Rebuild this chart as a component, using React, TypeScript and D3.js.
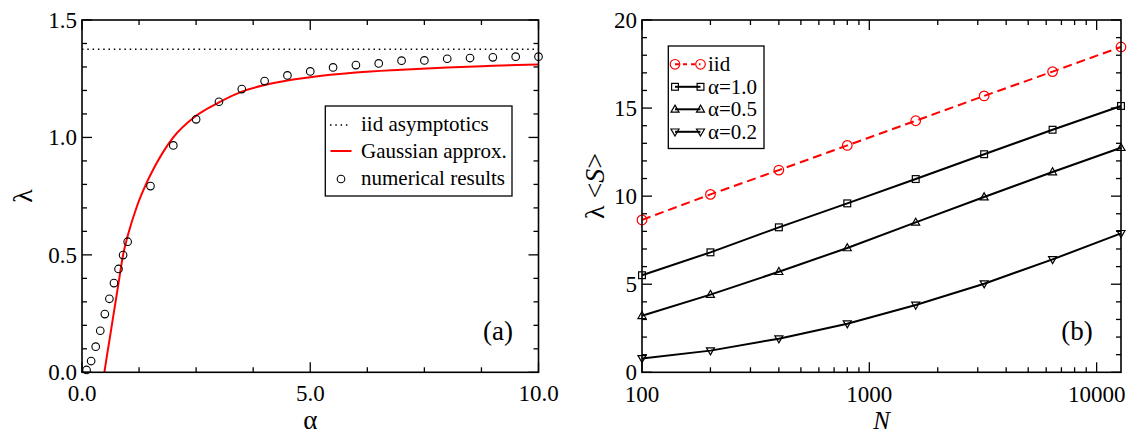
import React from 'react';
import * as d3 from 'd3';

// ---------- Panel (a) data ----------
const alphaNum = [0.1, 0.2, 0.3, 0.4, 0.5, 0.6, 0.7, 0.8, 0.9, 1.0, 1.5, 2.0, 2.5, 3.0, 3.5, 4.0, 4.5, 5.0, 5.5, 6.0, 6.5, 7.0, 7.5, 8.0, 8.5, 9.0, 9.5, 10.0];
const lambdaNum = [0.01, 0.048, 0.109, 0.177, 0.248, 0.313, 0.38, 0.44, 0.499, 0.556, 0.793, 0.966, 1.077, 1.152, 1.206, 1.24, 1.264, 1.281, 1.298, 1.308, 1.315, 1.327, 1.328, 1.335, 1.338, 1.341, 1.344, 1.344];
const alphaGauss = [0.49, 0.55, 0.6, 0.7, 0.8, 0.9, 1.0, 1.2, 1.4, 1.6, 1.8, 2.0, 2.5, 3.0, 3.5, 4.0, 5.0, 6.0, 7.0, 8.0, 9.0, 10.0];
const lambdaGauss = [0.0, 0.075, 0.135, 0.257, 0.379, 0.5, 0.58, 0.705, 0.8, 0.878, 0.945, 1.0, 1.092, 1.149, 1.195, 1.223, 1.256, 1.276, 1.288, 1.298, 1.305, 1.311];
const iidAsymptote = 1.375;
const leftXTicks = [0, 5, 10];
const leftXTickLabels = ['0.0', '5.0', '10.0'];
const leftYTicks = [0, 0.5, 1.0, 1.5];
const leftYTickLabels = ['0.0', '0.5', '1.0', '1.5'];
const leftXMinor = [1.25, 2.5, 3.75, 6.25, 7.5, 8.75];
const leftYMinor = [0.1, 0.2, 0.3, 0.4, 0.6, 0.7, 0.8, 0.9, 1.1, 1.2, 1.3, 1.4];
const leftLegend = ['iid asymptotics', 'Gaussian approx.', 'numerical results'];

// ---------- Panel (b) data ----------
const Nvals = [100, 200, 400, 800, 1600, 3200, 6400, 12800];
const iidVals = [8.65, 10.1, 11.48, 12.88, 14.28, 15.69, 17.07, 18.47];
const alpha10Vals = [5.51, 6.81, 8.23, 9.59, 10.97, 12.38, 13.77, 15.12];
const alpha05Vals = [3.21, 4.41, 5.71, 7.06, 8.51, 9.95, 11.37, 12.75];
const alpha02Vals = [0.79, 1.23, 1.91, 2.76, 3.82, 5.03, 6.41, 7.89];
const rightXTicks = [100, 1000, 10000];
const rightXTickLabels = ['100', '1000', '10000'];
const rightXMinor = [200, 300, 400, 500, 600, 700, 800, 900, 2000, 3000, 4000, 5000, 6000, 7000, 8000, 9000];
const rightYTicks = [0, 5, 10, 15, 20];
const rightYTickLabels = ['0', '5', '10', '15', '20'];
const rightYMinor = [1, 2, 3, 4, 6, 7, 8, 9, 11, 12, 13, 14, 16, 17, 18, 19];
const rightLegend = ['iid', 'α=1.0', 'α=0.5', 'α=0.2'];

const FONT = "'Liberation Serif', 'Times New Roman', Times, serif";
const RED = '#ff0000';
const TS = { fontFamily: FONT };

type Box = { x0: number; x1: number; y0: number; y1: number };

function Frame({ box, xs, ys, xMaj, xMin, yMaj, yMin }: any) {
  const MAJ = 10, MIN = 5;
  const els: any[] = [];
  const addX = (v: number, len: number, k: string) => {
    const x = xs(v);
    els.push(<line key={'b' + k} x1={x} x2={x} y1={box.y1} y2={box.y1 - len} />);
    els.push(<line key={'t' + k} x1={x} x2={x} y1={box.y0} y2={box.y0 + len} />);
  };
  const addY = (v: number, len: number, k: string) => {
    const y = ys(v);
    els.push(<line key={'l' + k} x1={box.x0} x2={box.x0 + len} y1={y} y2={y} />);
    els.push(<line key={'r' + k} x1={box.x1} x2={box.x1 - len} y1={y} y2={y} />);
  };
  xMaj.forEach((v: number, i: number) => addX(v, MAJ, 'xM' + i));
  xMin.forEach((v: number, i: number) => addX(v, MIN, 'xm' + i));
  yMaj.forEach((v: number, i: number) => addY(v, MAJ, 'yM' + i));
  yMin.forEach((v: number, i: number) => addY(v, MIN, 'ym' + i));
  return (
    <g stroke="#000" strokeWidth={1.3} fill="none">
      {els}
      <rect x={box.x0} y={box.y0} width={box.x1 - box.x0} height={box.y1 - box.y0} strokeWidth={1.6} />
    </g>
  );
}

function marker(kind: string, x: number, y: number, color: string, key: string) {
  const s = 3.4;
  if (kind === 'circle') return <circle key={key} cx={x} cy={y} r={4.8} fill="none" stroke={color} strokeWidth={1.2} />;
  if (kind === 'square') return <rect key={key} x={x - s} y={y - s} width={2 * s} height={2 * s} fill="none" stroke={color} strokeWidth={1.2} />;
  if (kind === 'up') return <path key={key} d={`M${x},${y - 4.2}L${x + 4},${y + 2.8}L${x - 4},${y + 2.8}Z`} fill="none" stroke={color} strokeWidth={1.2} />;
  return <path key={key} d={`M${x},${y + 4.2}L${x + 4},${y - 2.8}L${x - 4},${y - 2.8}Z`} fill="none" stroke={color} strokeWidth={1.2} />;
}

export default function App() {
  // Panel (a)
  const boxA: Box = { x0: 82, x1: 538.5, y0: 20, y1: 372.3 };
  const xA = d3.scaleLinear().domain([0, 10]).range([boxA.x0, boxA.x1]);
  const yA = d3.scaleLinear().domain([0, 1.5]).range([boxA.y1, boxA.y0]);
  const gaussLine = d3.line<number>()
    .x((d, i) => xA(alphaGauss[i]))
    .y((d) => yA(d))
    .curve(d3.curveMonotoneX)(lambdaGauss) as string;

  // Panel (b)
  const boxB: Box = { x0: 642, x1: 1121, y0: 20, y1: 372.3 };
  const xB = d3.scaleLog().domain([100, 12800]).range([boxB.x0, boxB.x1]);
  const yB = d3.scaleLinear().domain([0, 20]).range([boxB.y1, boxB.y0]);
  const seriesB = [
    { vals: iidVals, color: RED, dash: '9,5', kind: 'circle' },
    { vals: alpha10Vals, color: '#000', dash: undefined, kind: 'square' },
    { vals: alpha05Vals, color: '#000', dash: undefined, kind: 'up' },
    { vals: alpha02Vals, color: '#000', dash: undefined, kind: 'down' },
  ];
  const lineB = (vals: number[]) => d3.line<number>().x((d, i) => xB(Nvals[i])).y((d) => yB(d))(vals) as string;

  const tickFont = 23;
  const axisFont = 25;

  return (
    <svg width={1132} height={434} style={{ position: 'absolute', left: 0, top: 0, background: '#fff', fontFamily: FONT }}>
      <rect x={0} y={0} width={1132} height={434} fill="#fff" />
      {/* ---------- Panel (a) ---------- */}
      <line x1={boxA.x0} x2={boxA.x1} y1={yA(iidAsymptote)} y2={yA(iidAsymptote)} stroke="#000" strokeWidth={1.5} strokeDasharray="1.5,3.8" />
      <path d={gaussLine} fill="none" stroke={RED} strokeWidth={2} />
      {alphaNum.map((a, i) => (
        <circle key={'n' + i} cx={xA(a)} cy={yA(lambdaNum[i])} r={3.8} fill="none" stroke="#000" strokeWidth={1.1} />
      ))}
      <Frame box={boxA} xs={xA} ys={yA} xMaj={leftXTicks} xMin={leftXMinor} yMaj={leftYTicks} yMin={leftYMinor} />
      {leftXTicks.map((v, i) => (
        <text key={'ax' + i} style={TS} x={xA(v)} y={401} fontSize={tickFont} textAnchor="middle">{leftXTickLabels[i]}</text>
      ))}
      {leftYTicks.map((v, i) => (
        <text key={'ay' + i} style={TS} x={77} y={yA(v) + 8} fontSize={tickFont} textAnchor="end">{leftYTickLabels[i]}</text>
      ))}
      <text style={TS} x={(boxA.x0 + boxA.x1) / 2} y={428.5} fontSize={axisFont + 2} textAnchor="middle">α</text>
      <text style={TS} transform={`translate(32,196) rotate(-90)`} fontSize={28} textAnchor="middle">λ</text>
      <text style={TS} x={498} y={340} fontSize={27} textAnchor="middle">(a)</text>
      {/* legend (a) */}
      <rect x={325.3} y={106} width={186.7} height={90} fill="#fff" stroke="#000" strokeWidth={1.3} />
      <line x1={330} x2={351} y1={125} y2={125} stroke="#000" strokeWidth={1.5} strokeDasharray="1.5,3.8" />
      <line x1={330.5} x2={351.5} y1={151} y2={151} stroke={RED} strokeWidth={2} />
      <circle cx={341} cy={179} r={3.8} fill="none" stroke="#000" strokeWidth={1.1} />
      {leftLegend.map((t, i) => (
        <text key={'la' + i} style={TS} x={361} y={131 + i * 27} fontSize={21}>{t}</text>
      ))}

      {/* ---------- Panel (b) ---------- */}
      {seriesB.map((s, si) => (
        <g key={'s' + si}>
          <path d={lineB(s.vals)} fill="none" stroke={s.color} strokeWidth={2} strokeDasharray={s.dash} />
          {s.vals.map((v, i) => marker(s.kind, xB(Nvals[i]), yB(v), s.color, 'm' + si + '-' + i))}
        </g>
      ))}
      <Frame box={boxB} xs={xB} ys={yB} xMaj={rightXTicks} xMin={rightXMinor} yMaj={rightYTicks} yMin={rightYMinor} />
      {rightXTicks.map((v, i) => (
        <text key={'bx' + i} style={TS} x={xB(v)} y={401.5} fontSize={tickFont} textAnchor="middle">{rightXTickLabels[i]}</text>
      ))}
      {rightYTicks.map((v, i) => (
        <text key={'by' + i} style={TS} x={637} y={yB(v) + 7.5} fontSize={tickFont} textAnchor="end">{rightYTickLabels[i]}</text>
      ))}
      <text style={{ ...TS, fontStyle: 'italic' }} x={(boxB.x0 + boxB.x1) / 2} y={428.5} fontSize={axisFont} textAnchor="middle">N</text>
      <text style={TS} transform={`translate(604,186) rotate(-90)`} fontSize={28} textAnchor="middle">
        λ &lt;<tspan style={{ fontStyle: 'italic' }}>S</tspan>&gt;
      </text>
      <text style={TS} x={1077} y={340} fontSize={27} textAnchor="middle">(b)</text>
      {/* legend (b) */}
      <rect x={668.3} y={46} width={95.7} height={102.5} fill="#fff" stroke="#000" strokeWidth={1.3} />
      {seriesB.map((s, i) => {
        const cy = 64.3 + i * 22.5;
        return (
          <g key={'lb' + i}>
            <line x1={675} x2={700.5} y1={cy} y2={cy} stroke={s.color} strokeWidth={2} strokeDasharray={s.dash ? '4,4' : undefined} />
            {marker(s.kind, 675, cy, s.color, 'lm1' + i)}
            {marker(s.kind, 700.5, cy, s.color, 'lm2' + i)}
            <text style={TS} x={708} y={cy + 7} fontSize={21}>{rightLegend[i]}</text>
          </g>
        );
      })}
    </svg>
  );
}
